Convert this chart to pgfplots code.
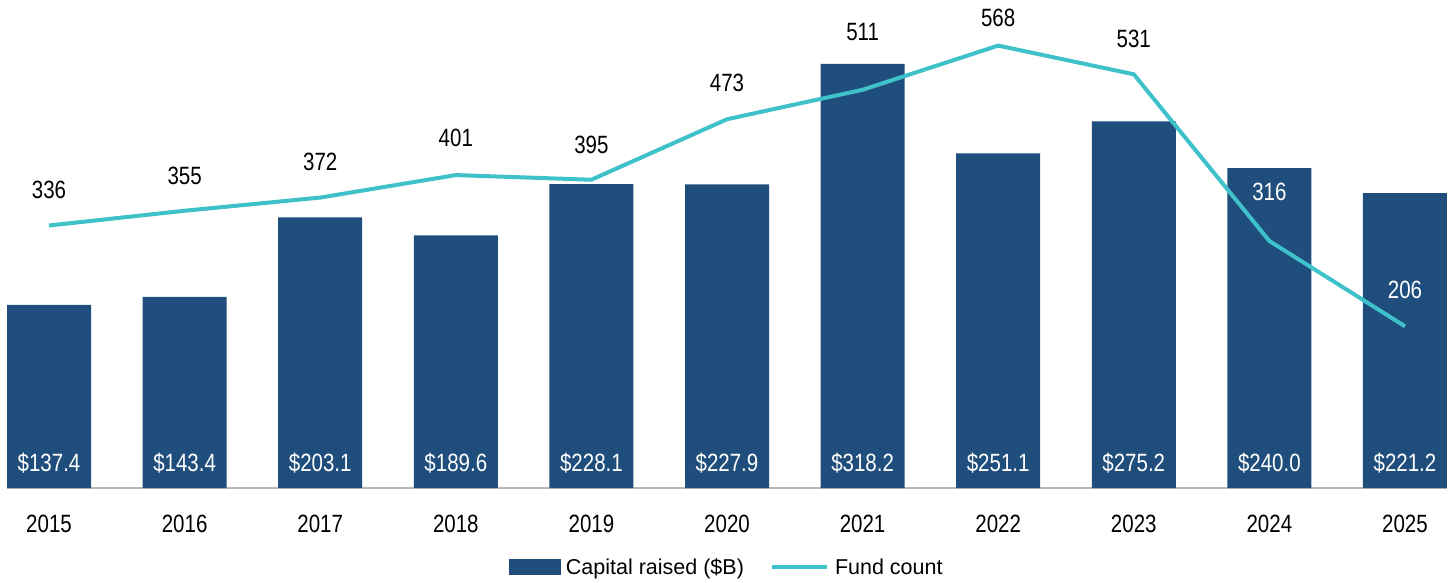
\documentclass[border=0pt]{standalone}
\usepackage{pgfplots}
\usepackage{pgfplotstable}
\pgfplotsset{compat=1.18}
\usepackage{fontspec}
\setmainfont{Liberation Sans}[FakeStretch=0.82]
\newfontfamily\legfont{Liberation Sans}
\definecolor{barblue}{HTML}{1F4E7C}
\definecolor{linecyan}{HTML}{3EC1C9}
\definecolor{basegray}{HTML}{BDB8AE}
\pgfplotstableread{
x cap ly
0 137.4 18.8
1 143.4 18.8
2 203.1 18.8
3 189.6 18.8
4 228.1 18.8
5 227.9 18.8
6 318.2 18.8
7 251.1 18.8
8 275.2 18.8
9 240.0 18.8
10 221.2 18.8
}\bars
\pgfplotstableread{
x n
0 336
1 355
2 372
3 401
4 395
5 473
6 511
7 568
8 531
9 316
10 206
}\fund
\pgfplotstableread{
x n ly
0 336 382.4
1 355 400.4
2 372 418.3
3 401 449.0
4 395 440.0
5 473 519.3
6 511 585.8
7 568 603.7
8 531 576.9
}\labblack
\pgfplotstableread{
x n ly
9 316 379.9
10 206 253.3
}\labwhite
\begin{document}
\begin{tikzpicture}
\begin{axis}[
  at={(0pt,0pt)}, anchor=south west,
  scale only axis, width=1440pt, height=488pt,
  xmin=-0.31, xmax=10.31, ymin=0, ymax=366.2,
  axis y line=none, axis x line*=bottom,
  x axis line style={basegray, line width=1.2pt, -},
  xtick={0,...,10},
  xticklabels={2015,2016,2017,2018,2019,2020,2021,2022,2023,2024,2025},
  major tick length=0pt,
  xticklabel style={font=\fontsize{25}{30}\selectfont, text=black, yshift=-24pt},
  clip=false,
]
\addplot[ybar, bar width=84pt, fill=barblue, draw=none] table[x=x,y=cap]{\bars};
\addplot[draw=none, mark=none, point meta=explicit symbolic,
  nodes near coords={\$\pgfplotspointmeta},
  nodes near coords align={anchor=center},
  every node near coord/.append style={text=white, font=\fontsize{25}{30}\selectfont, anchor=center}]
  table[x=x, y=ly, meta=cap]{\bars};
\end{axis}
\begin{axis}[
  at={(0pt,0pt)}, anchor=south west,
  scale only axis, width=1440pt, height=488pt,
  xmin=-0.31, xmax=10.31, ymin=-2.56, ymax=626.8,
  hide axis, clip=false,
  legend style={at={(0.4997,-0.162)}, anchor=center, draw=none, fill=none,
    font=\legfont\fontsize{21.5}{26}\selectfont, legend columns=2,
    /tikz/every odd column/.append style={column sep=4pt},
    /tikz/every even column/.append style={column sep=24pt}},
]
\addlegendimage{legend image code/.code={\fill[barblue] (0pt,-7.5pt) rectangle (51pt,7.5pt);}}
\addlegendentry{Capital raised (\$B)}
\addplot[linecyan, line width=4pt, mark=none,
  legend image code/.code={\draw[linecyan, line width=4pt] (0pt,0pt) -- (55pt,0pt);}]
  table[x=x,y=n]{\fund};
\addlegendentry{Fund count}
\addplot[draw=none, mark=none, point meta=explicit symbolic, forget plot,
  nodes near coords, nodes near coords align={anchor=center},
  every node near coord/.append style={text=black, font=\fontsize{25}{30}\selectfont, anchor=center}]
  table[x=x, y=ly, meta=n]{\labblack};
\addplot[draw=none, mark=none, point meta=explicit symbolic, forget plot,
  nodes near coords, nodes near coords align={anchor=center},
  every node near coord/.append style={text=white, font=\fontsize{25}{30}\selectfont, anchor=center}]
  table[x=x, y=ly, meta=n]{\labwhite};
\end{axis}
\pgfresetboundingbox
\path (-7pt,-94pt) rectangle (1443pt,488pt);
\end{tikzpicture}
\end{document}
